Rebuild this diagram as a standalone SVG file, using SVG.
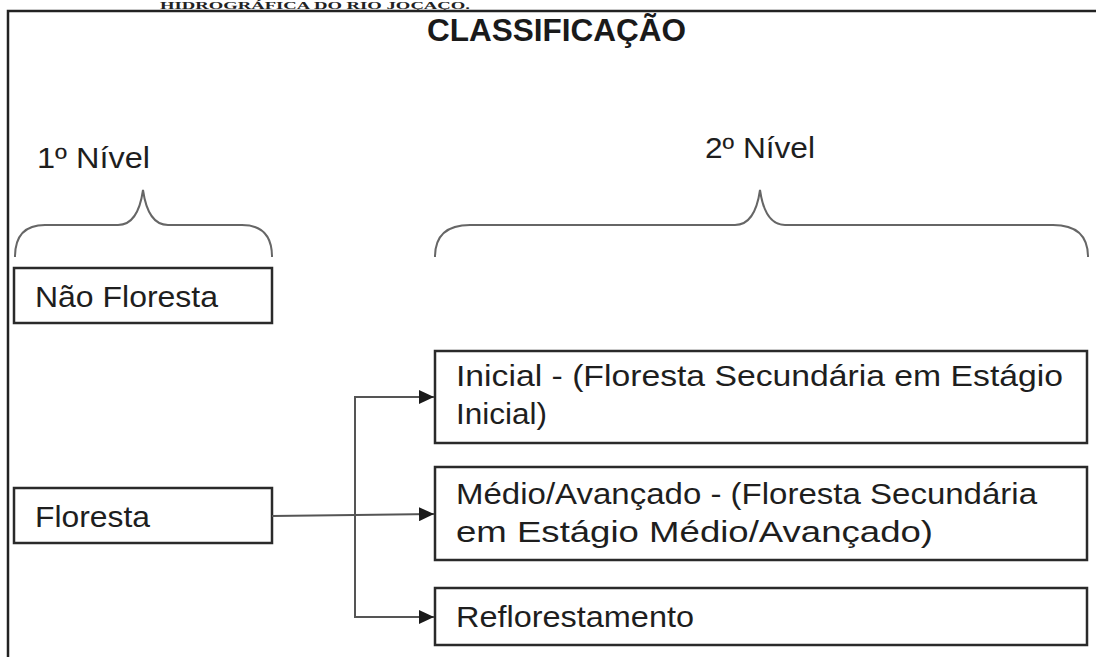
<svg xmlns="http://www.w3.org/2000/svg" width="1096" height="657" viewBox="0 0 1096 657">
<style>
.bg{fill:#fff}
.frame{fill:none;stroke:#222;stroke-width:2.5}
.box{fill:#fff;stroke:#2a2a2a;stroke-width:2.5}
.t{font-family:"Liberation Sans",Arial,sans-serif;font-size:29px;fill:#1e1e1e}
.title{font-family:"Liberation Sans",Arial,sans-serif;font-size:31px;font-weight:bold;fill:#1a1a1a}
.head{font-family:"Liberation Serif","Times New Roman",serif;font-size:11px;font-weight:bold;fill:#222}
.brace{fill:none;stroke:#666;stroke-width:2}
.conn{fill:none;stroke:#555;stroke-width:2}
</style>
<defs>
<marker id="arr" markerWidth="15" markerHeight="14" refX="15" refY="7" orient="auto" markerUnits="userSpaceOnUse">
<path d="M0,0 L15,7 L0,14 Z" fill="#1a1a1a"/>
</marker>
</defs>
<rect class="bg" x="0" y="0" width="1096" height="657"/>
<text class="head" x="160" y="9" textLength="310" lengthAdjust="spacingAndGlyphs">HIDROGRÁFICA DO RIO JOÇAÇO.</text>
<path class="frame" d="M8,657 L8,11 L1096,11"/>
<text class="title" x="427" y="41" textLength="259" lengthAdjust="spacingAndGlyphs">CLASSIFICAÇÃO</text>
<g id="level1">
<text class="t" x="37" y="168" textLength="113" lengthAdjust="spacingAndGlyphs">1º Nível</text>
<path class="brace" d="M15,257 Q15,225 45,225 L118,225 Q138,225 143,190 Q148,225 168,225 L242,225 Q272,225 272,257"/>
</g>
<g id="level2">
<text class="t" x="705" y="158" textLength="110" lengthAdjust="spacingAndGlyphs">2º Nível</text>
<path class="brace" d="M435,257 Q435,225 470,225 L735,225 Q755,225 760,190 Q765,225 785,225 L1053,225 Q1088,225 1088,257"/>
</g>
<g id="nao-floresta">
<rect class="box" x="14" y="268" width="258" height="55"/>
<text class="t" x="35" y="307" textLength="183" lengthAdjust="spacingAndGlyphs">Não Floresta</text>
</g>
<g id="floresta">
<rect class="box" x="14" y="488" width="258" height="55"/>
<text class="t" x="35" y="527" textLength="115" lengthAdjust="spacingAndGlyphs">Floresta</text>
</g>
<g id="inicial">
<rect class="box" x="435" y="351" width="652" height="92"/>
<text class="t" x="456" y="386" textLength="607" lengthAdjust="spacingAndGlyphs">Inicial - (Floresta Secundária em Estágio</text>
<text class="t" x="456" y="424" textLength="91" lengthAdjust="spacingAndGlyphs">Inicial)</text>
</g>
<g id="medio">
<rect class="box" x="435" y="467" width="652" height="93"/>
<text class="t" x="456" y="504" textLength="581" lengthAdjust="spacingAndGlyphs">Médio/Avançado - (Floresta Secundária</text>
<text class="t" x="456" y="542" textLength="477" lengthAdjust="spacingAndGlyphs">em Estágio Médio/Avançado)</text>
</g>
<g id="reflorestamento">
<rect class="box" x="435" y="588" width="652" height="57"/>
<text class="t" x="456" y="627" textLength="238" lengthAdjust="spacingAndGlyphs">Reflorestamento</text>
</g>
<g id="connectors">
<path class="conn" d="M272,516 L355,515 L434,514" marker-end="url(#arr)"/>
<path class="conn" d="M355,515 L355,397 L434,397" marker-end="url(#arr)"/>
<path class="conn" d="M355,515 L355,617 L434,617" marker-end="url(#arr)"/>
</g>
</svg>
